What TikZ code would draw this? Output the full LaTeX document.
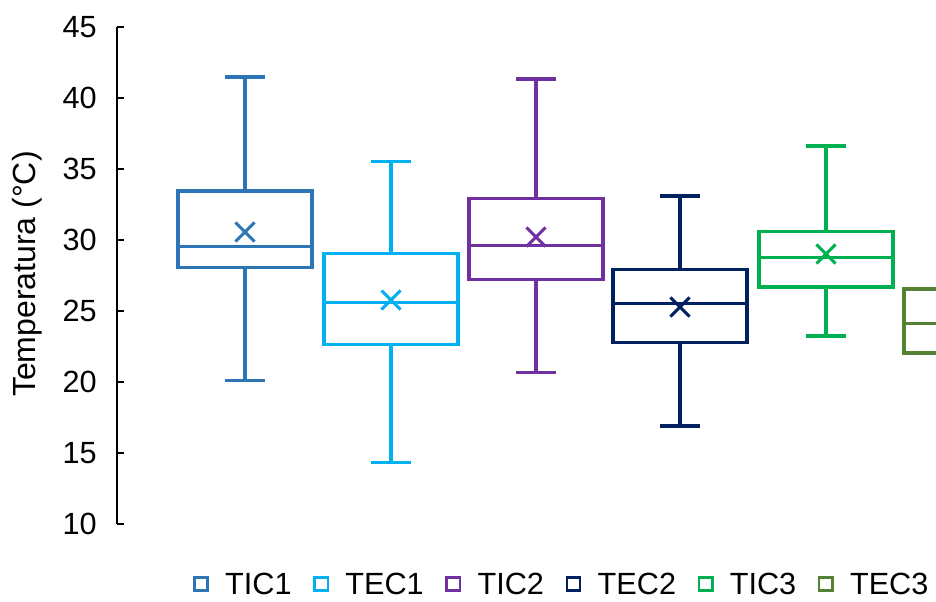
\documentclass[tikz,border=0pt]{standalone}
\usepackage{fontspec}
\setmainfont{Liberation Sans}
\usetikzlibrary{positioning,shapes.misc}

\definecolor{cTICa}{HTML}{2E75B6}
\definecolor{cTECa}{HTML}{00B0F0}
\definecolor{cTICb}{HTML}{7030A0}
\definecolor{cTECb}{HTML}{002060}
\definecolor{cTICc}{HTML}{00B050}
\definecolor{cTECc}{HTML}{548235}

\tikzset{
  boxline/.style={draw=#1, line width=2.3pt},
  meanmark/.style={cross out, draw=#1, line width=2.3pt, minimum size=12pt, inner sep=0pt},
  ticklab/.style={anchor=east, inner sep=0pt, font=\fontsize{23}{27}\selectfont},
  legsq/.style={draw=#1, line width=1.9pt, minimum size=10pt, inner sep=0pt},
  legtxt/.style={inner sep=0pt, font=\fontsize{23}{27}\selectfont},
}

\begin{document}
\begin{tikzpicture}[x=0.75pt,y=0.75pt]
  \useasboundingbox (0,0) rectangle (936,601);
  \clip (0,0) rectangle (936,601);
  \begin{scope}[y=10.65pt, yshift=-48.75pt]
    % y axis
    \coordinate (ybot) at (117,10);
    \coordinate (ytop) at (117,45);
    \draw[line width=1.7pt] (ybot) -- (ytop);
    \foreach \v in {10,15,...,45} {
      \draw[line width=1.7pt] (117,\v) -- (124,\v);
      \node[ticklab] (t\v) at (97,\v) {\v};
    }
    \node[rotate=90, inner sep=0pt, font=\fontsize{24}{28}\selectfont] (ytitle) at (27,27.6) {Temperatura (°C)};
    % boxes
    \foreach \nm/\col/\cx/\lo/\qa/\med/\qb/\hi/\mn in {
        TICa/cTICa/245/20.11/28.06/29.51/33.45/41.48/30.56,
        TECa/cTECa/391/14.30/22.61/25.63/29.08/35.56/25.77,
        TICb/cTICb/536/20.70/27.25/29.58/32.89/41.34/30.21,
        TECb/cTECb/680/16.90/22.75/25.56/27.89/33.10/25.28,
        TICc/cTICc/826/23.24/26.69/28.80/30.63/36.62/29.01} {
      \draw[boxline=\col] (\cx-20,\lo) -- (\cx+20,\lo) (\cx,\lo) -- (\cx,\qa)
        (\cx-67,\qa) rectangle (\cx+67,\qb) (\cx-67,\med) -- (\cx+67,\med)
        (\cx,\qb) -- (\cx,\hi) (\cx-20,\hi) -- (\cx+20,\hi);
      \node[meanmark=\col] (m\nm) at (\cx,\mn) {};
    }
    % last box, cut by the edge
    \draw[boxline=cTECc] (904,22.04) rectangle (1038,26.55) (904,24.15) -- (1038,24.15);
  \end{scope}
  % legend
  \foreach \lab/\col [count=\i] in {TIC1/cTICa,TEC1/cTECa,TIC2/cTICb,TEC2/cTECb,TIC3/cTICc,TEC3/cTECc} {
    \ifnum\i=1
      \node[legsq=\col] (s\i) at (201,17) {};
    \else
      \pgfmathtruncatemacro\j{\i-1}
      \node[legsq=\col, right=16pt of t\j] (s\i) {};
    \fi
    \node[legtxt, right=12pt of s\i] (t\i) {\lab};
  }
\end{tikzpicture}
\end{document}
